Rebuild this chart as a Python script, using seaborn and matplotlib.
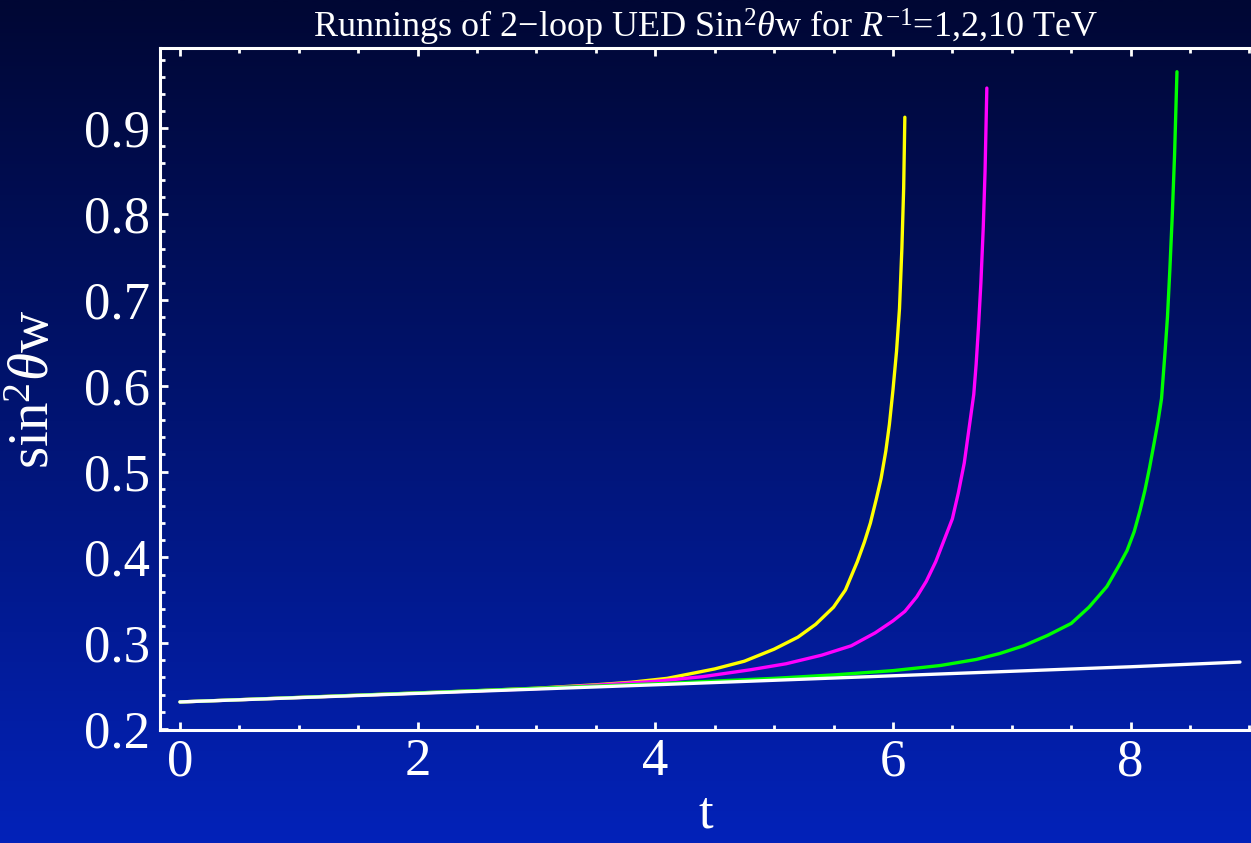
import numpy as np
import pandas as pd
import matplotlib
matplotlib.use("Agg")
import matplotlib.pyplot as plt
import seaborn as sns
from matplotlib.colors import LinearSegmentedColormap
from matplotlib.ticker import MultipleLocator

# ---- data ----
t_yellow = [0.0, 2.5, 3.0, 3.5, 3.8, 4.1, 4.5, 4.75, 5.0, 5.2, 5.35, 5.5, 5.6, 5.7, 5.76, 5.81,
            5.86, 5.9, 5.94, 5.97, 6.0, 6.03, 6.055, 6.075, 6.09, 6.1]
y_yellow = [0.2315, 0.2446, 0.2475, 0.2515, 0.2545, 0.259, 0.270, 0.279, 0.293, 0.307, 0.322,
            0.342, 0.362, 0.395, 0.418, 0.440, 0.468, 0.492, 0.524, 0.555, 0.595, 0.640, 0.690,
            0.760, 0.830, 0.913]

t_magenta = [0.0, 3.0, 3.5, 4.0, 4.4, 4.8, 5.1, 5.4, 5.65, 5.85, 6.0, 6.1, 6.2, 6.28, 6.36, 6.43,
             6.5, 6.55, 6.6, 6.64, 6.68, 6.7, 6.72, 6.74, 6.76, 6.775, 6.79]
y_magenta = [0.2315, 0.247, 0.251, 0.2555, 0.261, 0.269, 0.276, 0.286, 0.297, 0.312, 0.326,
             0.337, 0.354, 0.372, 0.395, 0.420, 0.445, 0.475, 0.510, 0.550, 0.590, 0.625,
             0.669, 0.720, 0.785, 0.850, 0.947]

t_green = [0.0, 4.0, 5.0, 5.5, 6.0, 6.4, 6.7, 6.9, 7.1, 7.3, 7.5, 7.65, 7.8, 7.9, 7.97, 8.03,
           8.08, 8.12, 8.16, 8.2, 8.23, 8.26, 8.29, 8.31, 8.33, 8.35, 8.37, 8.39]
y_green = [0.2315, 0.2526, 0.259, 0.263, 0.268, 0.274, 0.281, 0.288, 0.297, 0.309, 0.323, 0.342,
           0.366, 0.390, 0.408, 0.430, 0.455, 0.478, 0.505, 0.535, 0.558, 0.585, 0.640, 0.680,
           0.735, 0.797, 0.870, 0.966]

t_white = [0.0, 2.0, 4.0, 6.0, 8.0, 8.92]
y_white = [0.2315, 0.2415, 0.2515, 0.262, 0.2725, 0.278]

series_names = ["R-1=1 TeV", "R-1=2 TeV", "R-1=10 TeV", "SM"]
series_colors = ["#ffff00", "#ff00ff", "#00ff00", "#ffffff"]

x_ticks = [0, 2, 4, 6, 8]
y_ticks = [0.2, 0.3, 0.4, 0.5, 0.6, 0.7, 0.8, 0.9]

title_text = r"Runnings of 2$-$loop UED Sin$^{2}\theta$w for $R^{-1}$=1,2,10 TeV"
xlabel_text = "t"
ylabel_text = r"sin$^{2}\theta$w"

# ---- table ----
frames = []
for name, tt, yy in zip(series_names, [t_yellow, t_magenta, t_green, t_white],
                        [y_yellow, y_magenta, y_green, y_white]):
    frames.append(pd.DataFrame({"t": tt, "y": yy, "series": name}))
df = pd.concat(frames, ignore_index=True)

# ---- style ----
sns.set_theme(style="ticks")
plt.rcParams["font.family"] = ["Liberation Serif", "DejaVu Serif"]
plt.rcParams["mathtext.fontset"] = "custom"
plt.rcParams["mathtext.rm"] = "Liberation Serif"
plt.rcParams["mathtext.it"] = "Liberation Serif:italic"
plt.rcParams["mathtext.bf"] = "Liberation Serif:bold"

W, H = 1251, 843
fig = plt.figure(figsize=(W / 100, H / 100), dpi=100)

# background gradient
cmap = LinearSegmentedColormap.from_list(
    "bg", [(0.0, (0 / 255, 7 / 255, 52 / 255)),
           (0.5, (1 / 255, 20 / 255, 115 / 255)),
           (1.0, (3 / 255, 34 / 255, 185 / 255))])
bg = fig.add_axes([0, 0, 1, 1], zorder=0)
bg.imshow(np.linspace(0, 1, 512).reshape(-1, 1), aspect="auto", cmap=cmap,
          extent=[0, 1, 0, 1], interpolation="bilinear")
bg.axis("off")

left, right, bottom, top = 160, 1251, 730, 48
ax = fig.add_axes([left / W, (H - bottom) / H, (right - left) / W, (bottom - top) / H], zorder=1)
ax.patch.set_alpha(0)

sns.lineplot(data=df, x="t", y="y", hue="series", hue_order=series_names,
             palette=dict(zip(series_names, series_colors)), estimator=None,
             sort=False, linewidth=2.4, legend=False, ax=ax)

ax.set_xlim(-0.168, 9.013)
ax.set_ylim(0.1988, 0.9937)

ax.set_xticks(x_ticks)
ax.set_xticklabels([str(v) for v in x_ticks])
ax.set_yticks(y_ticks)
ax.set_yticklabels([f"{v:.1f}" for v in y_ticks])
ax.xaxis.set_minor_locator(MultipleLocator(0.5))
ax.yaxis.set_minor_locator(MultipleLocator(0.02))

for s in ["left", "bottom", "top"]:
    ax.spines[s].set_color("white")
    ax.spines[s].set_linewidth(2.2)
ax.spines["right"].set_visible(False)

ax.tick_params(which="both", direction="in", colors="white", top=True, right=False,
               labeltop=False, labelsize=38)
ax.tick_params(which="major", length=6, width=2)
ax.tick_params(which="minor", length=3.5, width=2)
ax.tick_params(axis="x", pad=6)
ax.tick_params(axis="y", pad=7)

ax.set_xlabel(xlabel_text, color="white", fontsize=38, labelpad=3)
ax.set_ylabel(ylabel_text, color="white", fontsize=41, labelpad=17)
ax.set_title(title_text, color="white", fontsize=26, pad=4)

fig.savefig("out.png", dpi=100)
